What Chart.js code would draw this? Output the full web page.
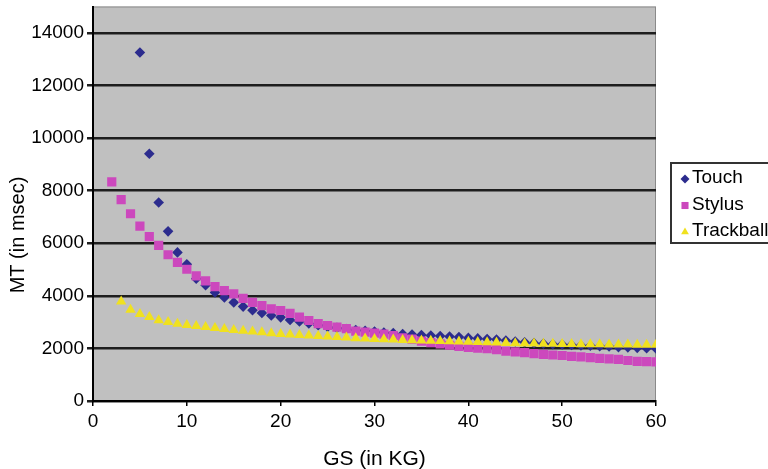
<!DOCTYPE html>
<html>
<head>
<meta charset="utf-8">
<script src="https://cdn.jsdelivr.net/npm/chart.js@4/dist/chart.umd.min.js"></script>
<style>
  html, body { margin: 0; padding: 0; background: #fff; overflow: hidden; }
  #wrap { position: relative; width: 768px; height: 469px; }
</style>
</head>
<body>
<div id="wrap"><canvas id="mtChart" width="768" height="469"></canvas></div>
<script>
// GS (in KG) values, shared by all three series
const gs = [2,3,4,5,6,7,8,9,10,
  11,12,13,14,15,16,17,18,19,20,
  21,22,23,24,25,26,27,28,29,30,
  31,32,33,34,35,36,37,38,39,40,
  41,42,43,44,45,46,47,48,49,50,
  51,52,53,54,55,56,57,58,59,60];

// MT (in msec)
const mtTouch = [null,null,null,13250,9400,7550,6450,5650,5200,
  4650,4400,4130,3940,3750,3590,3450,3350,3250,3180,
  3080,3020,2950,2880,2820,2780,2740,2700,2670,2640,
  2600,2580,2550,2530,2510,2490,2470,2450,2430,2400,
  2380,2360,2340,2300,2260,2230,2200,2180,2160,2150,
  2130,2110,2100,2080,2070,2050,2040,2020,2010,2000];

const mtStylus = [8330,7660,7120,6650,6250,5920,5560,5270,5010,
  4760,4570,4350,4200,4070,3900,3750,3630,3500,3440,
  3330,3190,3060,2940,2870,2810,2750,2660,2620,2580,
  2540,2490,2400,2350,2280,2220,2170,2120,2080,2040,
  2010,1990,1950,1900,1870,1840,1800,1770,1750,1730,
  1700,1680,1650,1620,1600,1580,1540,1510,1500,1490];

const mtTrackball = [null,3780,3470,3310,3190,3070,3000,2940,2890,
  2850,2810,2780,2740,2700,2670,2640,2610,2580,2550,
  2530,2510,2490,2470,2450,2430,2410,2390,2380,2360,
  2350,2340,2320,2310,2300,2290,2280,2270,2260,2250,
  2240,2230,2220,2210,2200,2190,2190,2180,2180,2170,
  2170,2160,2160,2160,2150,2150,2150,2140,2140,2140];

const seriesNames = ["Touch", "Stylus", "Trackball"];
const xTicks = [0, 10, 20, 30, 40, 50, 60];
const yTicks = [0, 2000, 4000, 6000, 8000, 10000, 12000, 14000];

const FONT = "'Liberation Sans', Arial, sans-serif";

function toPoints(ys) {
    const pts = [];
    ys.forEach((v, i) => { if (v !== null) pts.push({ x: gs[i], y: v }); });
    return pts;
}

// grey plot area + thin outline, like the old Excel chart
const plotBg = {
    id: "plotBg",
    beforeDraw(chart) {
        const { ctx, chartArea: a } = chart;
        ctx.save();
        ctx.fillStyle = "#c0c0c0";
        ctx.fillRect(a.left, a.top, a.right - a.left, a.bottom - a.top);
        ctx.strokeStyle = "#8a8a8a";
        ctx.lineWidth = 1;
        ctx.strokeRect(a.left + 0.5, a.top + 0.5, a.right - a.left - 1, a.bottom - a.top);
        ctx.restore();
    }
};

// y axis title centred on the whole chart height, and boxed legend on the right
const extras = {
    id: "extras",
    afterDraw(chart) {
        const ctx = chart.ctx;
        ctx.save();
        ctx.translate(18, 235);
        ctx.rotate(-Math.PI / 2);
        ctx.fillStyle = "#000";
        ctx.font = "20px " + FONT;
        ctx.textAlign = "center";
        ctx.textBaseline = "middle";
        ctx.fillText("MT (in msec)", 0, 0);
        ctx.restore();

        ctx.save();
        ctx.fillStyle = "#fff";
        ctx.fillRect(671, 163, 100, 80);
        ctx.strokeStyle = "#333";
        ctx.lineWidth = 2;
        ctx.strokeRect(671, 163, 100, 80);
        ctx.font = "19px " + FONT;
        ctx.textBaseline = "middle";
        chart.data.datasets.forEach((ds, i) => {
            const y = 178 + i * 26.5;
            ctx.fillStyle = ds.backgroundColor;
            Chart.helpers.drawPoint(ctx, {
                pointStyle: ds.pointStyle, radius: ds.legendRadius, rotation: 0, borderWidth: 0
            }, 685, y + 1);
            ctx.fillStyle = "#000";
            ctx.fillText(ds.label, 692, y);
        });
        ctx.restore();
    }
};

new Chart(document.getElementById("mtChart"), {
    type: "scatter",
    data: {
        datasets: [
            { label: seriesNames[0], data: toPoints(mtTouch), pointStyle: "rectRot",
              backgroundColor: "#2c2c8e", borderWidth: 0, pointRadius: 5.3, legendRadius: 4.5, order: 2 },
            { label: seriesNames[1], data: toPoints(mtStylus), pointStyle: "rect",
              backgroundColor: "#cc48bd", borderWidth: 0, pointRadius: 6.5, legendRadius: 5, order: 1 },
            { label: seriesNames[2], data: toPoints(mtTrackball), pointStyle: "triangle",
              backgroundColor: "#f0e11e", borderWidth: 0, pointRadius: 6, legendRadius: 4.5, order: 0 }
        ]
    },
    options: {
        responsive: false,
        animation: false,
        layout: { padding: { left: 0, right: 112, top: 5, bottom: 0 } },
        plugins: { legend: { display: false }, tooltip: { enabled: false } },
        scales: {
            x: {
                type: "linear", min: 0, max: 60,
                afterBuildTicks: s => { s.ticks = xTicks.map(v => ({ value: v })); },
                afterFit: s => { s.height = 68; s.paddingLeft = 0; s.paddingRight = 0; },
                grid: { drawOnChartArea: false, drawTicks: true, tickLength: 5, color: "#000", lineWidth: 1.5 },
                border: { display: true, color: "#000", width: 2 },
                ticks: { color: "#000", font: { family: FONT, size: 19 }, padding: 4, maxRotation: 0 },
                title: { display: true, text: "GS (in KG)", color: "#000",
                         font: { family: FONT, size: 21 }, padding: { top: 2, bottom: -3 } }
            },
            y: {
                type: "linear", min: 0, max: 15000,
                afterBuildTicks: s => { s.ticks = yTicks.map(v => ({ value: v })); },
                afterFit: s => { s.width = 93; s.paddingTop = 0; s.paddingBottom = 0; },
                grid: { color: "#1e1e1e", lineWidth: 2.5, tickLength: 6 },
                border: { display: true, color: "#000", width: 2 },
                ticks: { color: "#000", font: { family: FONT, size: 19 }, padding: 3,
                         callback: v => String(v) }
            }
        }
    },
    plugins: [plotBg, extras]
});
</script>
</body>
</html>
